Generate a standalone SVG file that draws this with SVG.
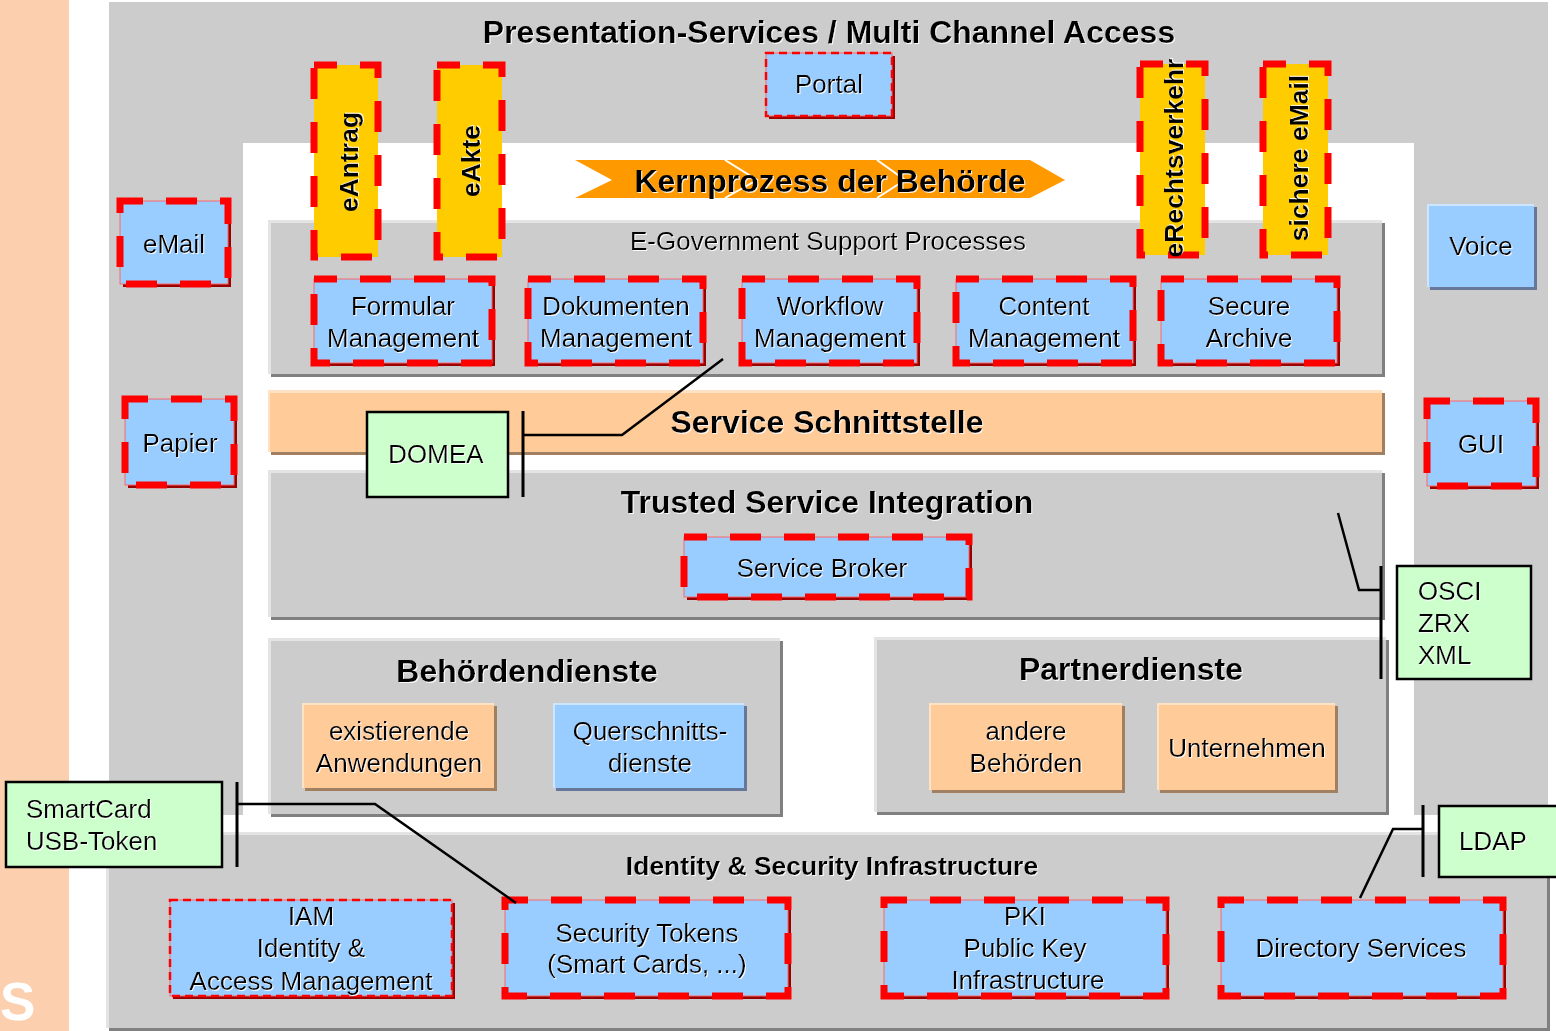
<svg xmlns="http://www.w3.org/2000/svg" width="1556" height="1031" viewBox="0 0 1556 1031">
<defs>
<filter id="ts" x="-5%" y="-20%" width="110%" height="140%">
<feDropShadow dx="1" dy="1" stdDeviation="0" flood-color="#ffffff" flood-opacity="0.9"/>
</filter>
</defs>
<style>
text{font-family:"Liberation Sans",Arial,sans-serif;fill:#000;filter:url(#ts)}
.t26{font-size:26px}
.b32{font-size:32px;font-weight:bold}
.b26{font-size:26.5px;font-weight:bold}
.m{text-anchor:middle}
.gray{fill:#CCCCCC}
.light{fill:#E4E4E4}
.dark{fill:#808080}
.blue{fill:#99CCFF;stroke:#FF6666;stroke-width:1}
.dshadow{fill:#990000}
.thick{fill:none;stroke:#FF0000;stroke-width:7;stroke-dasharray:31 23;stroke-dashoffset:8}
.thin{fill:none;stroke:#FF0000;stroke-width:2.5;stroke-dasharray:8 5}
.yellow{fill:#FFCC00}
.peach{fill:#FFCC99}
.peachl{fill:#FFE2C4}
.peachd{fill:#A08060}
.green{fill:#CCFFCC;stroke:#000;stroke-width:2.5}
.conn{fill:none;stroke:#000;stroke-width:2.5}
.bar{stroke:#000;stroke-width:3}
</style>

<!-- background -->
<rect x="0" y="0" width="1556" height="1031" fill="#FFFFFF"/>
<rect x="0" y="0" width="69" height="1031" fill="#FCCFAE"/>
<text x="0" y="1020" style="font-size:53px;font-weight:bold;fill:#FFFFFF;filter:none">S</text>

<!-- Presentation frame -->
<g id="presentation">
<rect x="109" y="2" width="1439" height="813" class="gray"/>
<rect x="243" y="143" width="1171" height="672" fill="#FFFFFF"/>
<text x="829" y="43" class="b32 m">Presentation-Services / Multi Channel Access</text>
</g>

<!-- Identity & Security panel -->
<g id="identity-security">
<rect x="109" y="835" width="1441" height="196" class="dark"/>
<rect x="106" y="832" width="1441" height="196" class="light"/>
<rect x="109" y="835" width="1438" height="193" class="gray"/>
<text x="832" y="875" class="b26 m">Identity &amp; Security Infrastructure</text>
</g>

<!-- Kernprozess arrow -->
<g id="kernprozess">
<polygon points="575,160 1030,160 1065,180 1030,198 575,198 612,180" fill="#FF9900"/>
<polyline points="725,160 757,180 725,198" fill="none" stroke="#FFFFFF" stroke-width="2"/>
<polyline points="877,160 905,180 877,198" fill="none" stroke="#FFFFFF" stroke-width="2"/>
<text x="830" y="192" class="b32 m">Kernprozess der Behörde</text>
</g>

<!-- E-Government Support Processes panel -->
<g id="egov">
<rect x="271" y="223" width="1114" height="154" class="dark"/>
<rect x="268" y="220" width="1114" height="154" class="light"/>
<rect x="271" y="223" width="1111" height="151" class="gray"/>
<text x="828" y="250" class="t26 m">E-Government Support Processes</text>
</g>

<!-- Service Schnittstelle -->
<g id="service-schnittstelle">
<rect x="271" y="393" width="1114" height="62" class="peachd"/>
<rect x="268" y="390" width="1114" height="62" class="peachl"/>
<rect x="270" y="393" width="1112" height="59" class="peach"/>
<text x="827" y="433" class="b32 m">Service Schnittstelle</text>
</g>

<!-- Trusted Service Integration -->
<g id="trusted">
<rect x="271" y="473" width="1114" height="147" class="dark"/>
<rect x="268" y="470" width="1114" height="147" class="light"/>
<rect x="271" y="473" width="1111" height="144" class="gray"/>
<text x="827" y="513" class="b32 m">Trusted Service Integration</text>
</g>

<!-- Behördendienste -->
<g id="behoerdendienste">
<rect x="271" y="641" width="512" height="176" class="dark"/>
<rect x="268" y="638" width="512" height="176" class="light"/>
<rect x="271" y="641" width="509" height="173" class="gray"/>
<text x="527" y="682" class="b32 m">Behördendienste</text>
</g>

<!-- Partnerdienste -->
<g id="partnerdienste">
<rect x="877" y="640" width="512" height="175" class="dark"/>
<rect x="874" y="637" width="512" height="175" class="light"/>
<rect x="877" y="640" width="509" height="172" class="gray"/>
<text x="1131" y="680" class="b32 m">Partnerdienste</text>
</g>

<!-- Portal -->
<g id="portal">
<rect x="769" y="56" width="126" height="63" class="dshadow"/>
<rect x="766" y="53" width="126" height="63" class="blue"/>
<rect x="766" y="53" width="126" height="63" class="thin"/>
<text x="829" y="93" class="t26 m">Portal</text>
</g>

<!-- vertical yellow boxes -->
<g id="eantrag">
<rect x="314" y="65" width="64" height="192" class="yellow"/>
<rect x="314" y="65" width="64" height="192" class="thick"/>
<text transform="translate(358,162) rotate(-90)" class="b26 m">eAntrag</text>
</g>
<g id="eakte">
<rect x="437" y="65" width="65" height="192" class="yellow"/>
<rect x="437" y="65" width="65" height="192" class="thick"/>
<text transform="translate(480,161) rotate(-90)" class="b26 m">eAkte</text>
</g>
<g id="erechtsverkehr">
<rect x="1140" y="64" width="65" height="191" class="yellow"/>
<rect x="1140" y="64" width="65" height="191" class="thick"/>
<text transform="translate(1183,158) rotate(-90)" class="b26 m">eRechtsverkehr</text>
</g>
<g id="sichere-email">
<rect x="1263" y="64" width="65" height="191" class="yellow"/>
<rect x="1263" y="64" width="65" height="191" class="thick"/>
<text transform="translate(1308,158) rotate(-90)" class="b26 m">sichere eMail</text>
</g>

<!-- left channels -->
<g id="email">
<rect x="123" y="204" width="108" height="83" class="dshadow"/>
<rect x="120" y="201" width="108" height="83" class="blue"/>
<rect x="120" y="201" width="108" height="83" class="thick"/>
<text x="174" y="253" class="t26 m">eMail</text>
</g>
<g id="papier">
<rect x="128" y="402" width="109" height="86" class="dshadow"/>
<rect x="125" y="399" width="109" height="86" class="blue"/>
<rect x="125" y="399" width="109" height="86" class="thick"/>
<text x="180" y="452" class="t26 m">Papier</text>
</g>

<!-- right channels -->
<g id="voice">
<rect x="1430" y="207" width="107" height="83" fill="#667799"/>
<rect x="1427" y="204" width="107" height="83" fill="#CCE6FF"/>
<rect x="1429" y="206" width="105" height="81" fill="#99CCFF"/>
<text x="1481" y="255" class="t26 m">Voice</text>
</g>
<g id="gui">
<rect x="1430" y="404" width="109" height="85" class="dshadow"/>
<rect x="1427" y="401" width="109" height="85" class="blue"/>
<rect x="1427" y="401" width="109" height="85" class="thick"/>
<text x="1481" y="453" class="t26 m">GUI</text>
</g>

<!-- E-Gov support boxes -->
<g id="formular">
<rect x="317" y="282" width="178" height="84" class="dshadow"/>
<rect x="314" y="279" width="178" height="84" class="blue"/>
<rect x="314" y="279" width="178" height="84" class="thick"/>
<text x="403" y="315" class="t26 m">Formular</text>
<text x="403" y="347" class="t26 m">Management</text>
</g>
<g id="dokumenten">
<rect x="531" y="282" width="175" height="84" class="dshadow"/>
<rect x="528" y="279" width="175" height="84" class="blue"/>
<rect x="528" y="279" width="175" height="84" class="thick"/>
<text x="616" y="315" class="t26 m">Dokumenten</text>
<text x="616" y="347" class="t26 m">Management</text>
</g>
<g id="workflow">
<rect x="745" y="282" width="175" height="84" class="dshadow"/>
<rect x="742" y="279" width="175" height="84" class="blue"/>
<rect x="742" y="279" width="175" height="84" class="thick"/>
<text x="830" y="315" class="t26 m">Workflow</text>
<text x="830" y="347" class="t26 m">Management</text>
</g>
<g id="content">
<rect x="959" y="282" width="177" height="84" class="dshadow"/>
<rect x="956" y="279" width="177" height="84" class="blue"/>
<rect x="956" y="279" width="177" height="84" class="thick"/>
<text x="1044" y="315" class="t26 m">Content</text>
<text x="1044" y="347" class="t26 m">Management</text>
</g>
<g id="secure-archive">
<rect x="1164" y="282" width="176" height="84" class="dshadow"/>
<rect x="1161" y="279" width="176" height="84" class="blue"/>
<rect x="1161" y="279" width="176" height="84" class="thick"/>
<text x="1249" y="315" class="t26 m">Secure</text>
<text x="1249" y="347" class="t26 m">Archive</text>
</g>

<!-- Service Broker -->
<g id="service-broker">
<rect x="687" y="540" width="285" height="60" class="dshadow"/>
<rect x="684" y="537" width="285" height="60" class="blue"/>
<rect x="684" y="537" width="285" height="60" class="thick"/>
<text x="822" y="577" class="t26 m">Service Broker</text>
</g>

<!-- Behördendienste content -->
<g id="existierende">
<rect x="305" y="706" width="192" height="85" class="peachd"/>
<rect x="302" y="703" width="192" height="85" class="peachl"/>
<rect x="304" y="705" width="190" height="83" class="peach"/>
<text x="399" y="740" class="t26 m">existierende</text>
<text x="399" y="772" class="t26 m">Anwendungen</text>
</g>
<g id="querschnitt">
<rect x="556" y="706" width="191" height="85" fill="#667799"/>
<rect x="553" y="703" width="191" height="85" fill="#CCE6FF"/>
<rect x="555" y="705" width="189" height="83" fill="#99CCFF"/>
<text x="650" y="740" class="t26 m">Querschnitts-</text>
<text x="650" y="772" class="t26 m">dienste</text>
</g>

<!-- Partnerdienste content -->
<g id="andere">
<rect x="932" y="706" width="193" height="87" class="peachd"/>
<rect x="929" y="703" width="193" height="87" class="peachl"/>
<rect x="931" y="705" width="191" height="85" class="peach"/>
<text x="1026" y="740" class="t26 m">andere</text>
<text x="1026" y="772" class="t26 m">Behörden</text>
</g>
<g id="unternehmen">
<rect x="1160" y="706" width="178" height="87" class="peachd"/>
<rect x="1157" y="703" width="178" height="87" class="peachl"/>
<rect x="1159" y="705" width="176" height="85" class="peach"/>
<text x="1247" y="757" class="t26 m">Unternehmen</text>
</g>

<!-- Identity & Security boxes -->
<g id="iam">
<rect x="173" y="903" width="282" height="96" class="dshadow"/>
<rect x="170" y="900" width="282" height="96" class="blue"/>
<rect x="170" y="900" width="282" height="96" class="thin"/>
<text x="311" y="925" class="t26 m">IAM</text>
<text x="311" y="957" class="t26 m">Identity &amp;</text>
<text x="311" y="990" class="t26 m">Access Management</text>
</g>
<g id="security-tokens">
<rect x="508" y="903" width="283" height="96" class="dshadow"/>
<rect x="505" y="900" width="283" height="96" class="blue"/>
<rect x="505" y="900" width="283" height="96" class="thick"/>
<text x="647" y="942" class="t26 m">Security Tokens</text>
<text x="647" y="973" class="t26 m">(Smart Cards, ...)</text>
</g>
<g id="pki">
<rect x="887" y="903" width="282" height="96" class="dshadow"/>
<rect x="884" y="900" width="282" height="96" class="blue"/>
<rect x="884" y="900" width="282" height="96" class="thick"/>
<text x="1025" y="925" class="t26 m">PKI</text>
<text x="1025" y="957" class="t26 m">Public Key</text>
<text x="1028" y="989" class="t26 m">Infrastructure</text>
</g>
<g id="directory">
<rect x="1224" y="903" width="282" height="96" class="dshadow"/>
<rect x="1221" y="900" width="282" height="96" class="blue"/>
<rect x="1221" y="900" width="282" height="96" class="thick"/>
<text x="1361" y="957" class="t26 m">Directory Services</text>
</g>

<!-- annotation boxes -->
<g id="domea">
<rect x="367" y="412" width="141" height="85" class="green"/>
<text x="436" y="463" class="t26 m">DOMEA</text>
</g>
<g id="osci">
<rect x="1397" y="566" width="134" height="113" class="green"/>
<text x="1418" y="600" class="t26">OSCI</text>
<text x="1418" y="632" class="t26">ZRX</text>
<text x="1418" y="664" class="t26">XML</text>
</g>
<g id="smartcard">
<rect x="6" y="782" width="216" height="85" class="green"/>
<text x="26" y="818" class="t26">SmartCard</text>
<text x="26" y="850" class="t26">USB-Token</text>
</g>
<g id="ldap">
<rect x="1439" y="806" width="130" height="71" class="green"/>
<text x="1459" y="850" class="t26">LDAP</text>
</g>

<!-- connectors -->
<g id="connectors">
<line x1="523" y1="411" x2="523" y2="497" class="bar"/>
<polyline points="523,435 622,435 723,359" class="conn"/>
<line x1="1381" y1="566" x2="1381" y2="679" class="bar"/>
<polyline points="1381,590 1359,590 1338,513" class="conn"/>
<line x1="237" y1="782" x2="237" y2="867" class="bar"/>
<polyline points="237,804 375,804 516,903" class="conn"/>
<line x1="1423" y1="805" x2="1423" y2="877" class="bar"/>
<polyline points="1423,829 1393,829 1360,898" class="conn"/>
</g>
</svg>
